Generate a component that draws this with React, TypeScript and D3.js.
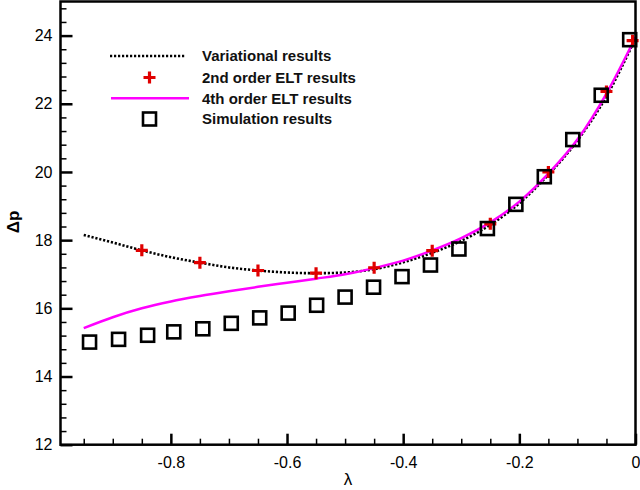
import React, { FC, useEffect, useRef } from "react"
import { axisBottom, axisLeft, line, curveMonotoneX, scaleLinear, select, range } from "d3"

// variational results (black dotted)
const varLambda = [-0.95, -0.9, -0.85, -0.8, -0.75, -0.7, -0.65, -0.6, -0.55, -0.5, -0.45, -0.4, -0.35, -0.3, -0.25, -0.2, -0.15, -0.1, -0.05, 0]
const varDp = [18.15, 17.93, 17.7, 17.5, 17.34, 17.2, 17.11, 17.05, 17.03, 17.05, 17.15, 17.35, 17.63, 17.98, 18.45, 19.08, 19.92, 20.92, 22.22, 23.92]

// 2nd order ELT results (red crosses)
const eltLambda = [-0.85, -0.75, -0.65, -0.55, -0.45, -0.35, -0.25, -0.15, -0.05, -0.005]
const eltDp = [17.7, 17.34, 17.11, 17.03, 17.19, 17.69, 18.48, 20.0, 22.36, 23.85]

// 4th order ELT results (magenta)
const elt4Lambda = [-0.95, -0.9, -0.85, -0.8, -0.75, -0.7, -0.65, -0.6, -0.55, -0.5, -0.45, -0.4, -0.35, -0.3, -0.25, -0.2, -0.15, -0.1, -0.05, 0]
const elt4Dp = [15.42, 15.74, 16.0, 16.2, 16.36, 16.5, 16.63, 16.75, 16.87, 17.0, 17.18, 17.4, 17.7, 18.06, 18.52, 19.13, 19.95, 20.95, 22.3, 23.95]

// simulation results (squares)
const simLambda = [-0.94, -0.89, -0.84, -0.795, -0.745, -0.696, -0.647, -0.598, -0.549, -0.5, -0.451, -0.402, -0.353, -0.304, -0.255, -0.206, -0.157, -0.108, -0.059, -0.01]
const simDp = [15.01, 15.09, 15.21, 15.31, 15.4, 15.56, 15.72, 15.86, 16.09, 16.33, 16.62, 16.93, 17.27, 17.74, 18.34, 19.05, 19.86, 20.95, 22.25, 23.88]

const xTicks = [-0.8, -0.6, -0.4, -0.2, 0]
const yTicks = [12, 14, 16, 18, 20, 22, 24]
const legendLabels = ["Variational results", "2nd order ELT results", "4th order ELT results", "Simulation results"]

const App: FC = () => {
  const wrapperRef = useRef<SVGSVGElement>(null)

  useEffect(() => {
    const svg = select(wrapperRef.current)
    svg.selectAll("*").remove()

    // dimensions
    const margins = { left: 60.5, top: 1.5, right: 635.5, bottom: 444.7 }
    const font = "Arial, 'Liberation Sans', sans-serif"

    // scales
    const xScale = scaleLinear().domain([-0.99, 0]).range([margins.left, margins.right])
    const yScale = scaleLinear().domain([12, 25]).range([margins.bottom, margins.top])

    const clip = svg.append("clipPath").attr("id", "plotclip")
    clip
      .append("rect")
      .attr("x", margins.left)
      .attr("y", margins.top)
      .attr("width", margins.right - margins.left + 4)
      .attr("height", margins.bottom - margins.top)

    const plot = svg.append("g").attr("clip-path", "url(#plotclip)")

    const lineGen = line<[number, number]>()
      .x((d) => xScale(d[0]))
      .y((d) => yScale(d[1]))
      .curve(curveMonotoneX)

    // variational
    plot
      .append("path")
      .attr("d", lineGen(varLambda.map((l, i) => [l, varDp[i]])))
      .attr("fill", "none")
      .attr("stroke", "#000")
      .attr("stroke-width", 2.6)
      .attr("stroke-dasharray", "2.2,1.8")

    // 4th order
    plot
      .append("path")
      .attr("d", lineGen(elt4Lambda.map((l, i) => [l, elt4Dp[i]])))
      .attr("fill", "none")
      .attr("stroke", "#ff00ff")
      .attr("stroke-width", 2.5)

    const drawCross = (g: any, cx: number, cy: number) => {
      const s = 6
      g.append("path")
        .attr("d", `M${cx - s},${cy}H${cx + s}M${cx},${cy - s}V${cy + s}`)
        .attr("stroke", "#e00000")
        .attr("stroke-width", 3.2)
        .attr("fill", "none")
    }

    const drawSquare = (g: any, cx: number, cy: number) => {
      const s = 6.5
      g.append("rect")
        .attr("x", cx - s)
        .attr("y", cy - s)
        .attr("width", 2 * s)
        .attr("height", 2 * s)
        .attr("fill", "none")
        .attr("stroke", "#000")
        .attr("stroke-width", 2.6)
    }

    // crosses
    eltLambda.forEach((l, i) => drawCross(plot, xScale(l), yScale(eltDp[i])))

    // squares
    simLambda.forEach((l, i) => drawSquare(plot, xScale(l), yScale(simDp[i])))

    // frame
    svg
      .append("rect")
      .attr("x", margins.left)
      .attr("y", margins.top)
      .attr("width", margins.right - margins.left)
      .attr("height", margins.bottom - margins.top)
      .attr("fill", "none")
      .attr("stroke", "#000")
      .attr("stroke-width", 2.5)

    // x axis
    const xMinor = range(-0.95, 0.001, 0.05).filter((v) => Math.abs(Math.round(v * 5) - v * 5) > 0.01)
    const xAxisMinor = svg
      .append("g")
      .attr("transform", `translate(0,${margins.bottom})`)
      .call(axisBottom(xScale).tickValues(xMinor).tickSize(-6).tickFormat(() => ""))
    xAxisMinor.select(".domain").remove()
    xAxisMinor.selectAll("line").attr("stroke-width", 1.5)

    const xAxis = svg
      .append("g")
      .attr("transform", `translate(0,${margins.bottom})`)
      .call(
        axisBottom(xScale)
          .tickValues(xTicks)
          .tickSize(-11)
          .tickPadding(8)
          .tickFormat((d) => (d === 0 ? "0" : String(d))),
      )
    xAxis.select(".domain").remove()
    xAxis.selectAll("line").attr("stroke-width", 2.5)
    xAxis.selectAll("text").attr("font-size", 16).attr("font-family", font).attr("fill", "#000").attr("dy", "0.95em")

    // y axis
    const yMinor = range(12.4, 25, 0.4).filter((v) => Math.abs(Math.round(v / 2) * 2 - v) > 0.01)
    const yAxisMinor = svg
      .append("g")
      .attr("transform", `translate(${margins.left},0)`)
      .call(axisLeft(yScale).tickValues(yMinor).tickSize(-6).tickFormat(() => ""))
    yAxisMinor.select(".domain").remove()
    yAxisMinor.selectAll("line").attr("stroke-width", 1.5)

    const yAxis = svg
      .append("g")
      .attr("transform", `translate(${margins.left},0)`)
      .call(axisLeft(yScale).tickValues(yTicks).tickSize(-12).tickPadding(8))
    yAxis.select(".domain").remove()
    yAxis.selectAll("line").attr("stroke-width", 2.5)
    yAxis.selectAll("text").attr("font-size", 16).attr("font-family", font).attr("fill", "#000")

    // axis titles
    svg
      .append("text")
      .attr("x", 348)
      .attr("y", 485)
      .attr("text-anchor", "middle")
      .attr("font-size", 17)
      .attr("font-family", font)
      .text("λ")

    svg
      .append("text")
      .attr("transform", `translate(19,222) rotate(-90)`)
      .attr("text-anchor", "middle")
      .attr("font-size", 17)
      .attr("font-weight", "bold")
      .attr("font-family", font)
      .text("Δp")

    // legend
    const legend = svg.append("g")
    const rowY = [56, 77.5, 98.3, 119]
    legend
      .append("line")
      .attr("x1", 110)
      .attr("x2", 186)
      .attr("y1", rowY[0])
      .attr("y2", rowY[0])
      .attr("stroke", "#000")
      .attr("stroke-width", 2.6)
      .attr("stroke-dasharray", "2.2,1.8")
    drawCross(legend, 149.5, rowY[1])
    legend
      .append("line")
      .attr("x1", 111)
      .attr("x2", 189)
      .attr("y1", rowY[2])
      .attr("y2", rowY[2])
      .attr("stroke", "#ff00ff")
      .attr("stroke-width", 2.5)
    drawSquare(legend, 149.5, rowY[3])
    legendLabels.forEach((label, i) => {
      legend
        .append("text")
        .attr("x", 202)
        .attr("y", rowY[i])
        .attr("dy", "0.36em")
        .attr("font-size", 15)
        .attr("font-weight", "bold")
        .attr("font-family", font)
        .attr("fill", "#111")
        .text(label)
    })
  }, [])

  return (
    <svg
      ref={wrapperRef}
      width={640}
      height={490}
      style={{ position: "absolute", left: 0, top: 0, background: "#fff" }}
    />
  )
}

export default App
